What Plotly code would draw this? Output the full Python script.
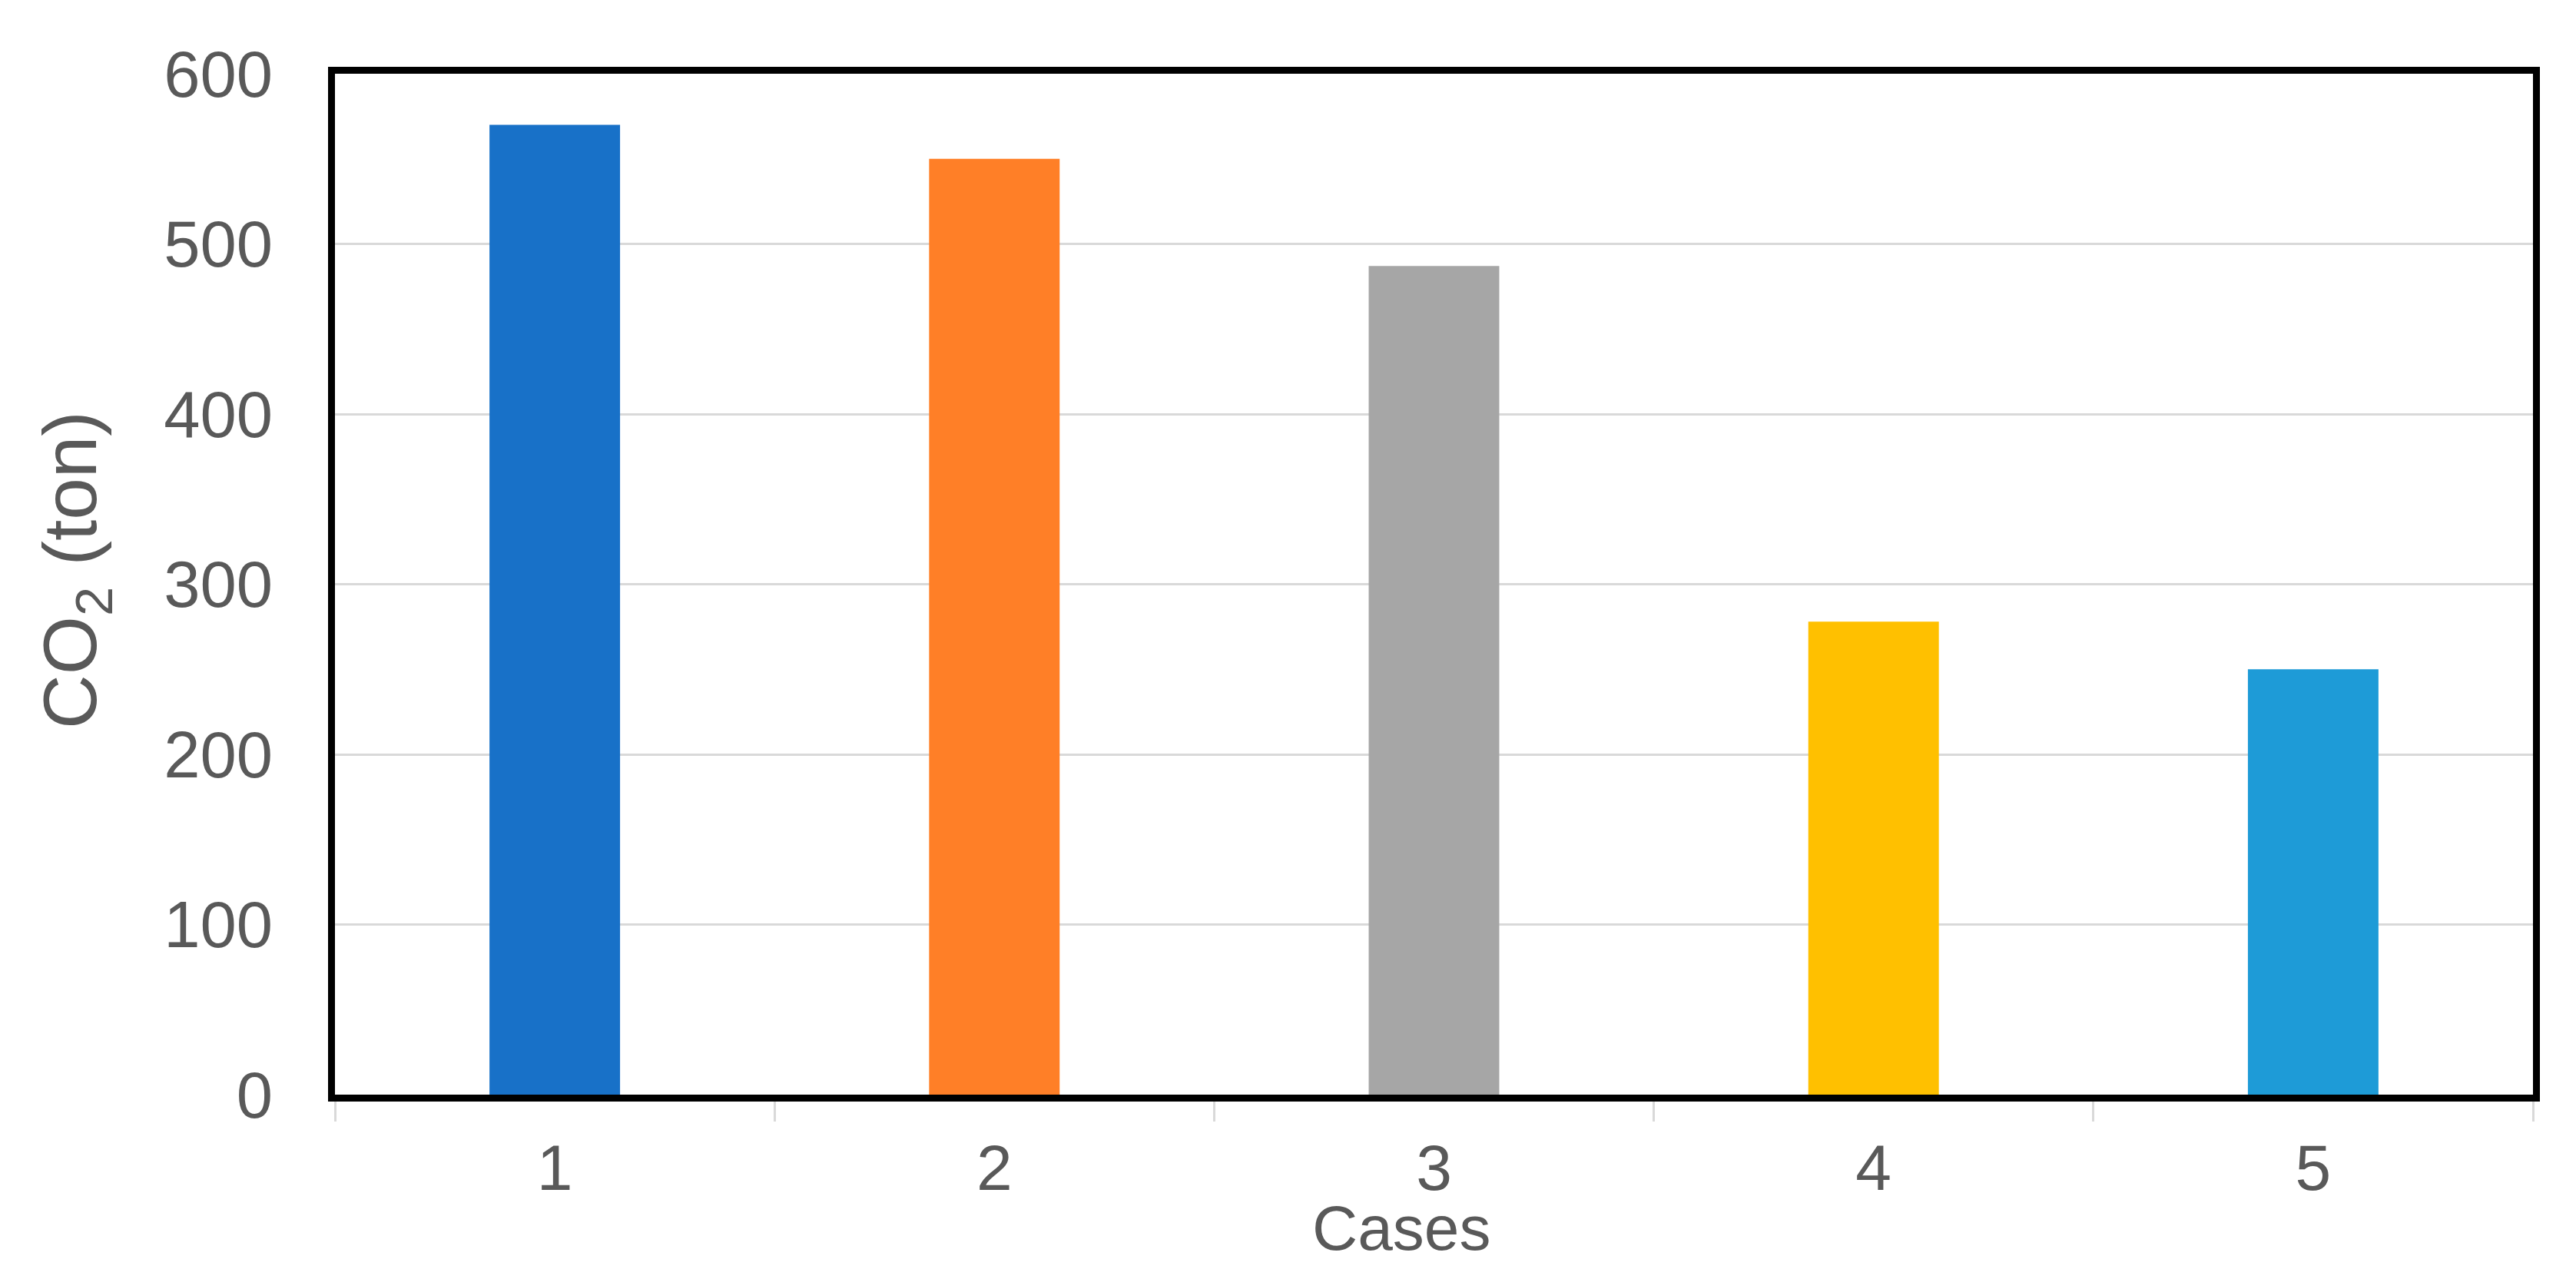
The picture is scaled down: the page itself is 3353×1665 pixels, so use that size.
import plotly.graph_objects as go

cases = [1, 2, 3, 4, 5]
case_labels = ["1", "2", "3", "4", "5"]
co2_ton = [570, 550, 487, 278, 250]
bar_colors = ["#1871C8", "#FF7F27", "#A6A6A6", "#FFC000", "#1E9BD7"]
y_ticks = [0, 100, 200, 300, 400, 500, 600]
boundaries = [0.5, 1.5, 2.5, 3.5, 4.5, 5.5]

W, H = 3353, 1665
L, R, T, B = 428, 64, 88, 248
FONT = "Liberation Sans, Arial, sans-serif"
TXT = "#595959"

fig = go.Figure()
fig.add_trace(go.Bar(
    x=cases, y=co2_ton,
    marker=dict(color=bar_colors, line=dict(width=0)),
    width=0.297,
    showlegend=False,
))

fig.update_layout(
    width=W, height=H,
    margin=dict(l=L, r=R, t=T, b=B, pad=0),
    paper_bgcolor="white", plot_bgcolor="white",
    font=dict(family=FONT, color=TXT, size=84),
    xaxis=dict(
        range=[0.5, 5.5],
        tickmode="array", tickvals=cases, ticktext=case_labels,
        ticks="", showgrid=False, zeroline=False,
        showline=True, linecolor="black", linewidth=9, mirror=True,
        tickfont=dict(size=84, color=TXT, family=FONT),
        ticklabelstandoff=14,
        minor=dict(tickmode="array", tickvals=boundaries, ticks="outside",
                   ticklen=26, tickwidth=3, tickcolor="#D9D9D9", showgrid=False),
    ),
    yaxis=dict(
        range=[0, 600],
        tickmode="array", tickvals=y_ticks,
        ticks="", showgrid=True, gridcolor="#D9D9D9", gridwidth=3,
        zeroline=False,
        showline=True, linecolor="black", linewidth=9, mirror=True,
        tickfont=dict(size=85, color=TXT, family=FONT),
        ticklabelstandoff=55,
    ),
    annotations=[
        dict(text="Cases", xref="paper", yref="paper",
             x=(1816 - L) / (W - L - R), y=-(1590 - (H - B)) / (H - T - B),
             xanchor="center", yanchor="middle", showarrow=False,
             font=dict(size=82, color=TXT, family=FONT)),
        dict(text="CO<sub>2</sub> (ton)", xref="paper", yref="paper",
             x=(90 - L) / (W - L - R), y=((H - B) - 734) / (H - T - B),
             xanchor="center", yanchor="middle", showarrow=False, textangle=-90,
             font=dict(size=98, color=TXT, family=FONT)),
    ],
)

fig.write_html("out.html")
